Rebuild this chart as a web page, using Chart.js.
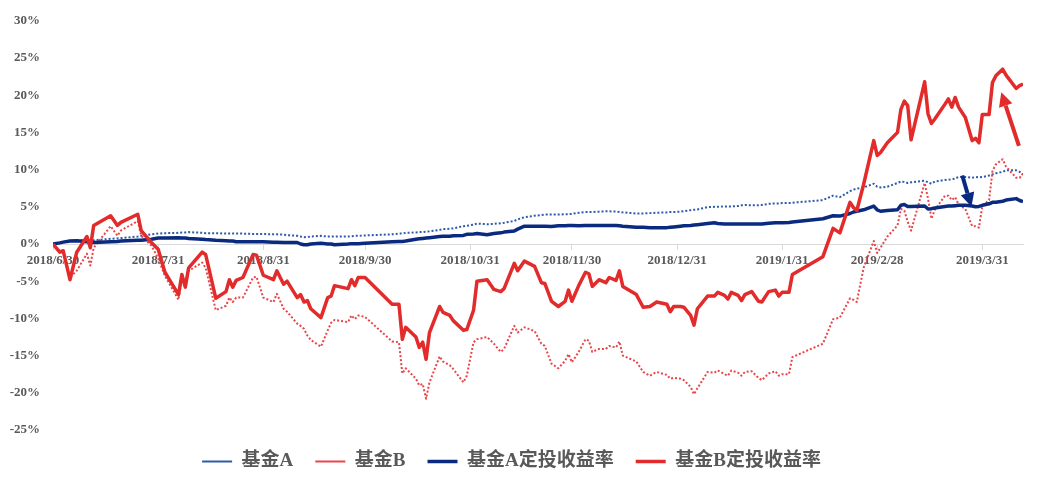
<!DOCTYPE html>
<html>
<head>
<meta charset="utf-8">
<script src="https://cdn.jsdelivr.net/npm/chart.js@4.4.1/dist/chart.umd.min.js"></script>
<style>
html, body { margin: 0; padding: 0; background: #fff; }
#wrap { width: 1039px; height: 486px; }
</style>
</head>
<body>
<div id="wrap"><canvas id="chart"></canvas></div>
<script>
// days since 2018/6/30 (trading days)
const days = [
    0, 2, 3, 5, 7, 10, 11, 12, 17, 19, 20, 25, 26, 29, 31, 33, 37, 38, 39, 40,
    44, 45, 48, 51, 52, 53, 54, 56, 59, 60, 62, 65, 66, 68, 69, 72, 73, 74, 75, 76,
    79, 81, 82, 83, 87, 88, 89, 90, 92, 100, 102, 103, 104, 107, 108, 109, 110, 111, 114, 115,
    117, 118, 121, 122, 124, 125, 128, 130, 132, 133, 136, 137, 139, 142, 144, 145, 147, 149, 151, 152,
    153, 155, 157, 158, 159, 161, 163, 164, 166, 167, 168, 172, 174, 176, 178, 181, 182, 183, 185, 186,
    188, 189, 190, 193, 195, 196, 198, 199, 200, 202, 203, 204, 206, 208, 209, 211, 213, 214, 215, 217,
    218, 227, 230, 232, 235, 236, 237, 239, 242, 243, 244, 246, 249, 250, 251, 252, 253, 257, 258, 259,
    260, 263, 264, 265, 266, 267, 269, 271, 272, 273, 274, 276, 277, 278, 280, 281, 284, 285, 286
];

// 基金A (%)
const fundA = [
    0, 0.2, 0.3, 0.45, 0.5, 0.55, 0.5, 0.5, 0.7, 0.75, 0.8, 1.0, 1.1, 1.3, 1.4, 1.45, 1.5, 1.55, 1.55, 1.6,
    1.5, 1.45, 1.45, 1.4, 1.4, 1.4, 1.4, 1.4, 1.35, 1.35, 1.35, 1.3, 1.3, 1.25, 1.2, 1.1, 1.0, 0.9, 0.95, 1.0,
    1.1, 1.0, 1.0, 1.0, 1.0, 1.05, 1.1, 1.1, 1.15, 1.3, 1.4, 1.4, 1.5, 1.55, 1.6, 1.6, 1.65, 1.7, 1.9, 2.0,
    2.05, 2.1, 2.4, 2.45, 2.6, 2.75, 2.65, 2.7, 2.8, 2.85, 3.1, 3.3, 3.6, 3.8, 3.9, 3.95, 3.95, 3.95, 4.0, 4.0,
    4.05, 4.2, 4.3, 4.3, 4.3, 4.35, 4.4, 4.4, 4.35, 4.3, 4.25, 4.1, 4.1, 4.15, 4.2, 4.25, 4.3, 4.3, 4.35, 4.4,
    4.55, 4.6, 4.65, 4.95, 5.0, 5.0, 5.05, 5.05, 5.05, 5.1, 5.2, 5.25, 5.2, 5.2, 5.25, 5.4, 5.45, 5.45, 5.5, 5.5,
    5.55, 5.9, 6.5, 6.3, 7.1, 7.3, 7.45, 7.6, 8.1, 7.7, 7.6, 7.7, 8.2, 8.4, 8.35, 8.2, 8.3, 8.5, 8.3, 8.1,
    8.4, 8.6, 8.65, 8.7, 8.8, 9.0, 9.0, 8.9, 9.0, 8.95, 9.0, 9.2, 9.35, 9.5, 9.7, 9.9, 9.9, 9.7, 9.3
];

// 基金B (%)
const fundB = [
    0, -1.0, -1.2, -4.5, -3.6, -1.3, -2.9, -0.5, 2.4, 1.1, 1.8, 3.1, 1.1, -0.2, -1.9, -4.3, -7.5, -4.7, -5.8, -3.6,
    -2.5, -3.2, -8.9, -8.3, -7.2, -7.8, -7.2, -7.2, -4.5, -4.4, -7.2, -7.8, -6.7, -8.7, -9.1, -10.7, -11.0, -11.4, -12.3, -12.9,
    -13.8, -11.6, -10.6, -10.2, -10.5, -9.6, -10.1, -9.6, -9.8, -13.1, -13.2, -17.4, -16.7, -18.1, -19.0, -18.8, -20.8, -18.6, -15.1, -15.8,
    -16.3, -16.8, -18.6, -17.7, -13.2, -12.8, -12.5, -13.4, -14.5, -14.1, -11.0, -11.9, -11.2, -11.7, -13.4, -13.7, -16.1, -16.7, -15.7, -14.8,
    -15.9, -14.5, -12.8, -13.0, -14.5, -14.1, -14.1, -13.7, -13.9, -13.1, -15.0, -15.8, -17.2, -17.7, -17.2, -17.6, -18.1, -18.0, -18.1, -18.3,
    -19.2, -20.2, -19.4, -17.2, -17.3, -17.0, -17.5, -17.7, -17.0, -17.3, -17.7, -17.2, -17.1, -18.0, -18.3, -17.4, -17.1, -17.7, -17.5, -17.5,
    -15.2, -13.4, -10.1, -9.9, -7.3, -7.5, -7.8, -3.2, 0.4, -1.2, -0.5, 1.0, 2.5, 4.7, 4.5, 3.0, 1.8, 8.2, 6.1, 3.4,
    4.6, 6.5, 6.5, 5.9, 6.3, 5.3, 4.7, 2.4, 2.4, 2.2, 5.1, 5.9, 9.8, 10.7, 11.4, 10.4, 8.9, 8.9, 9.5
];

// 基金A定投收益率 (%)
const planA = [
    0, 0.15, 0.25, 0.4, 0.45, 0.3, 0.25, 0.2, 0.3, 0.35, 0.4, 0.5, 0.5, 0.65, 0.8, 0.8, 0.85, 0.8, 0.8, 0.75,
    0.65, 0.6, 0.5, 0.45, 0.4, 0.4, 0.3, 0.3, 0.3, 0.3, 0.3, 0.25, 0.25, 0.2, 0.2, 0.2, 0.0, -0.1, -0.1, 0.0,
    0.1, 0.0, 0.0, -0.1, 0.0, 0.05, 0.05, 0.05, 0.1, 0.3, 0.35, 0.35, 0.4, 0.65, 0.7, 0.75, 0.8, 0.85, 1.0, 1.05,
    1.05, 1.1, 1.15, 1.3, 1.35, 1.4, 1.25, 1.4, 1.5, 1.6, 1.75, 2.0, 2.4, 2.4, 2.4, 2.4, 2.35, 2.45, 2.45, 2.5,
    2.5, 2.45, 2.5, 2.5, 2.5, 2.5, 2.5, 2.5, 2.5, 2.45, 2.4, 2.25, 2.25, 2.2, 2.2, 2.2, 2.25, 2.3, 2.4, 2.45,
    2.5, 2.55, 2.6, 2.75, 2.85, 2.75, 2.7, 2.7, 2.7, 2.7, 2.7, 2.7, 2.7, 2.7, 2.7, 2.8, 2.85, 2.85, 2.85, 2.9,
    2.95, 3.4, 3.8, 3.75, 4.1, 4.3, 4.4, 4.6, 5.1, 4.6, 4.4, 4.5, 4.6, 5.2, 5.3, 5.05, 5.05, 5.1, 4.7, 4.75,
    4.85, 5.05, 5.1, 5.1, 5.15, 5.2, 5.2, 5.1, 5.0, 5.05, 5.2, 5.4, 5.6, 5.6, 5.75, 5.9, 6.1, 5.85, 5.7
];

// 基金B定投收益率 (%)
const planB = [
    0, -1.1, -0.9, -4.8, -1.1, 1.0, -0.5, 2.5, 3.8, 2.5, 2.9, 4.0, 1.8, 0.2, -0.7, -3.8, -6.8, -4.1, -5.8, -3.2,
    -1.1, -1.4, -7.3, -6.4, -4.8, -5.8, -4.9, -4.5, -1.4, -1.5, -4.2, -4.8, -3.6, -5.4, -5.0, -7.2, -6.8, -7.8, -7.6, -8.7,
    -9.9, -7.2, -7.0, -5.6, -6.0, -4.8, -5.6, -4.5, -4.5, -8.1, -8.1, -12.8, -11.2, -12.5, -13.9, -13.2, -15.5, -11.9, -8.4, -9.2,
    -9.6, -10.3, -11.6, -11.5, -8.9, -5.0, -4.8, -6.1, -6.4, -6.0, -2.6, -3.6, -2.3, -3.0, -5.2, -5.3, -7.7, -8.4, -7.7, -6.2,
    -7.7, -5.6, -3.8, -4.0, -5.7, -4.8, -5.2, -4.5, -4.9, -3.6, -5.7, -6.8, -8.5, -8.4, -7.8, -8.1, -9.1, -8.4, -8.4, -8.5,
    -9.6, -10.9, -8.7, -7.0, -7.0, -6.5, -6.9, -7.4, -6.5, -6.9, -7.6, -6.8, -6.4, -7.7, -7.8, -6.4, -6.2, -7.0, -6.5, -6.5,
    -4.1, -1.7, 2.1, 1.5, 5.6, 4.9, 4.5, 8.0, 13.9, 11.9, 12.3, 13.6, 15.0, 18.1, 19.2, 18.6, 14.0, 21.8, 17.5, 16.2,
    16.8, 18.8, 19.5, 18.4, 19.7, 18.4, 17.0, 13.9, 14.2, 13.6, 17.4, 17.4, 21.7, 22.6, 23.5, 22.7, 20.9, 21.3, 21.5
];

// month-end tick positions and their labels
const tickDays = [0, 31, 62, 92, 123, 153, 184, 215, 243, 274];
const tickLabels = [
    '2018/6/30', '2018/7/31', '2018/8/31', '2018/9/30', '2018/10/31',
    '2018/11/30', '2018/12/31', '2019/1/31', '2019/2/28', '2019/3/31'
];

const FONT = '"Liberation Serif", "Noto Sans CJK SC", serif';
const TEXT_COLOR = '#595959';

function points(values) {
    return days.map((d, i) => ({ x: d, y: values[i] }));
}

// the two hand-drawn arrows, in data units
const arrowPlugin = {
    id: 'arrows',
    afterDatasetsDraw(chart, args, opts) {
        const { ctx, scales: { x, y } } = chart;
        for (const a of opts.items) {
            const x1 = x.getPixelForValue(a.from[0]);
            const y1 = y.getPixelForValue(a.from[1]);
            const x2 = x.getPixelForValue(a.to[0]);
            const y2 = y.getPixelForValue(a.to[1]);
            const ang = Math.atan2(y2 - y1, x2 - x1);
            const head = 14;
            const half = 7;
            const bx = x2 - head * Math.cos(ang);
            const by = y2 - head * Math.sin(ang);
            ctx.save();
            ctx.strokeStyle = a.color;
            ctx.fillStyle = a.color;
            ctx.lineWidth = 4;
            ctx.beginPath();
            ctx.moveTo(x1, y1);
            ctx.lineTo(bx, by);
            ctx.stroke();
            ctx.beginPath();
            ctx.moveTo(x2, y2);
            ctx.lineTo(bx + half * Math.sin(ang), by - half * Math.cos(ang));
            ctx.lineTo(bx - half * Math.sin(ang), by + half * Math.cos(ang));
            ctx.closePath();
            ctx.fill();
            ctx.restore();
        }
    },
};

new Chart(document.getElementById('chart'), {
    type: 'line',
    data: {
        datasets: [
            {
                label: '基金A',
                data: points(fundA),
                borderColor: '#2E5AA8',
                borderWidth: 2,
                borderDash: [2, 2],
                order: 3,
            },
            {
                label: '基金B',
                data: points(fundB),
                borderColor: '#E8454A',
                borderWidth: 2,
                borderDash: [2, 2],
                order: 2,
            },
            {
                label: '基金A定投收益率',
                data: points(planA),
                borderColor: '#0A2A80',
                borderWidth: 3.5,
                order: 1,
            },
            {
                label: '基金B定投收益率',
                data: points(planB),
                borderColor: '#E22B2B',
                borderWidth: 3.5,
                order: 0,
            },
        ],
    },
    options: {
        responsive: true,
        maintainAspectRatio: false,
        animation: false,
        layout: { padding: { left: 0, right: 16, top: 18, bottom: 5 } },
        elements: {
            point: { radius: 0 },
            line: { tension: 0, borderJoinStyle: 'round', fill: false },
        },
        scales: {
            x: {
                type: 'linear',
                min: 0,
                max: 286,
                position: { y: 0 },
                afterBuildTicks: (scale) => {
                    scale.ticks = tickDays.map((v) => ({ value: v }));
                },
                ticks: {
                    autoSkip: false,
                    maxRotation: 0,
                    padding: 4,
                    color: TEXT_COLOR,
                    font: { family: FONT, size: 13, weight: 'bold' },
                    callback: (v, i) => tickLabels[i],
                },
                grid: { drawOnChartArea: false, drawTicks: true, tickLength: 5, color: '#d9d9d9' },
                border: { display: true, color: '#d9d9d9', width: 1 },
            },
            y: {
                min: -25,
                max: 30,
                afterFit: (scale) => {
                    scale.width = 53;
                },
                ticks: {
                    stepSize: 5,
                    padding: 13,
                    color: TEXT_COLOR,
                    font: { family: FONT, size: 13, weight: 'bold' },
                    callback: (v) => v + '%',
                },
                grid: { display: false, drawTicks: false },
                border: { display: false },
            },
        },
        plugins: {
            legend: {
                position: 'bottom',
                labels: {
                    usePointStyle: true,
                    pointStyle: 'line',
                    pointStyleWidth: 30,
                    padding: 22,
                    color: TEXT_COLOR,
                    font: { family: FONT, size: 19, weight: 'bold' },
                    sort: (a, b) => a.datasetIndex - b.datasetIndex,
                },
            },
            tooltip: { enabled: false },
            arrows: {
                items: [
                    { from: [268.1, 9.2], to: [270.8, 5.0], color: '#0A2A80' },
                    { from: [284.8, 13.2], to: [279.6, 20.4], color: '#E22B2B' },
                ],
            },
        },
    },
    plugins: [arrowPlugin],
});
</script>
</body>
</html>
